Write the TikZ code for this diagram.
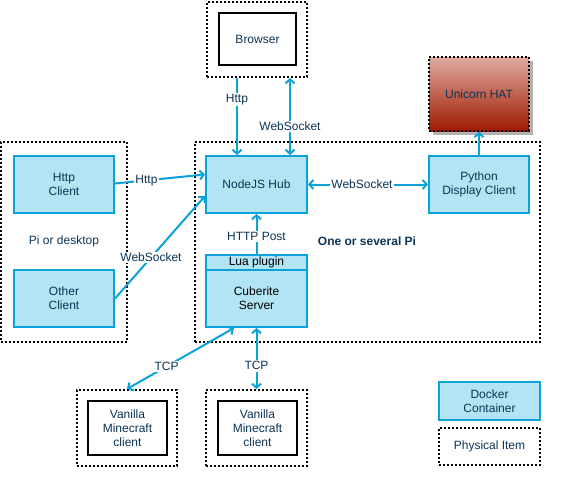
\documentclass[tikz,border=0pt]{standalone}
\usepackage{fontspec}
\setmainfont{Liberation Sans}
\usetikzlibrary{arrows.meta,shadows}
\definecolor{lblue}{HTML}{0AA2D9}
\definecolor{lfill}{HTML}{B2E4F4}
\definecolor{tnavy}{HTML}{0C3455}
\definecolor{htop}{HTML}{DEAAA2}
\definecolor{hbot}{HTML}{A01A00}
\tikzset{
  every node/.style={font=\fontsize{12}{14}\selectfont, text=tnavy, align=center, inner sep=0pt},
  dock/.style={draw=lblue, fill=lfill, line width=2pt, rectangle},
  phys/.style={draw=black, line width=2pt, dash pattern=on 2pt off 2pt, rectangle},
  solidbox/.style={draw=black, line width=2.3pt, fill=white, rectangle},
  conn/.style={draw=lblue, line width=2pt, {Straight Barb[length=4pt,width=9pt]}-{Straight Barb[length=4pt,width=9pt]}},
  oneway/.style={draw=lblue, line width=2pt, -{Straight Barb[length=4pt,width=9pt]}},
  lbl/.style={fill=white, inner sep=1.5pt},
}
\begin{document}
\begin{tikzpicture}[x=1pt,y=-1pt]
\useasboundingbox (0,0) rectangle (565,485);
% physical containers
\node[phys, minimum width=100, minimum height=75] (browserout) at (257,39.5) {};
\node[solidbox, minimum width=77, minimum height=52] (browser) at (257.5,39) {Browser};
\node[phys, minimum width=345, minimum height=200] (pibox) at (367.5,242) {};
\node[phys, minimum width=126, minimum height=200] (deskbox) at (64,242) {};
\node[phys, minimum width=100, minimum height=76] (van1out) at (127,428) {};
\node[solidbox, minimum width=79, minimum height=54] (van1) at (127.5,428) {Vanilla\\Minecraft\\client};
\node[phys, minimum width=101, minimum height=76] (van2out) at (256.5,428) {};
\node[solidbox, minimum width=79, minimum height=54] (van2) at (257.5,428) {Vanilla\\Minecraft\\client};
% unicorn hat
\node[phys, line width=1.6pt, minimum width=100, minimum height=74, top color=htop, bottom color=hbot,
  general shadow={fill=black!30, shadow xshift=4pt, shadow yshift=-4pt}] (unicorn) at (479,94) {Unicorn HAT};
% docker boxes
\node[dock, minimum width=101, minimum height=57] (hub) at (256.5,184.5) {NodeJS Hub};
\node[dock, minimum width=100, minimum height=57] (python) at (479,184.5) {Python\\Display Client};
\node[dock, minimum width=101, minimum height=15, text=black] (lua) at (256.5,262.5) {Lua plugin};
\node[dock, minimum width=101, minimum height=57, text=black] (cuberite) at (256.5,298.5) {Cuberite\\Server};
\node[dock, minimum width=100, minimum height=57] (httpc) at (64,184.5) {Http\\Client};
\node[dock, minimum width=100, minimum height=57] (otherc) at (64,298.5) {Other\\Client};
% texts
\node (pidesk) at (64,241) {Pi or desktop};
\node[font=\fontsize{12}{14}\selectfont\bfseries] (several) at (367,241) {One or several Pi};
% legend
\node[dock, minimum width=101, minimum height=38] (legdock) at (489.5,401) {Docker\\Container};
\node[phys, minimum width=101, minimum height=37] (legphys) at (489.5,446.5) {Physical Item};
% connectors
\draw[oneway] ([xshift=-20]browserout.south) -- node[lbl, pos=0.28] (lhttp1) {Http} ([xshift=-19.5]hub.north);
\draw[conn] ([xshift=33]browserout.south) -- node[lbl, pos=0.63] (lws1) {WebSocket} ([xshift=33.5]hub.north);
\draw[oneway] ([yshift=1]httpc.east) -- node[lbl, pos=0.35] (lhttp2) {Http} ([yshift=10]hub.west);
\draw[oneway] (otherc.east) -- node[lbl, pos=0.40] (lws2) {WebSocket} ([yshift=-11.5]hub.west);
\draw[conn] (hub.east) -- node[lbl, pos=0.45] (lws3) {WebSocket} (python.west);
\draw[oneway] (python.north) -- (unicorn.south);
\draw[oneway] (lua.north) -- node[lbl, pos=0.43] (lpost) {HTTP Post} (hub.south);
\draw[conn] ([xshift=-22.5]cuberite.south) -- node[lbl, pos=0.63] (ltcp1) {TCP} (van1out.north);
\draw[conn] (cuberite.south) -- node[lbl, pos=0.62] (ltcp2) {TCP} (van2out.north);
\end{tikzpicture}
\end{document}
